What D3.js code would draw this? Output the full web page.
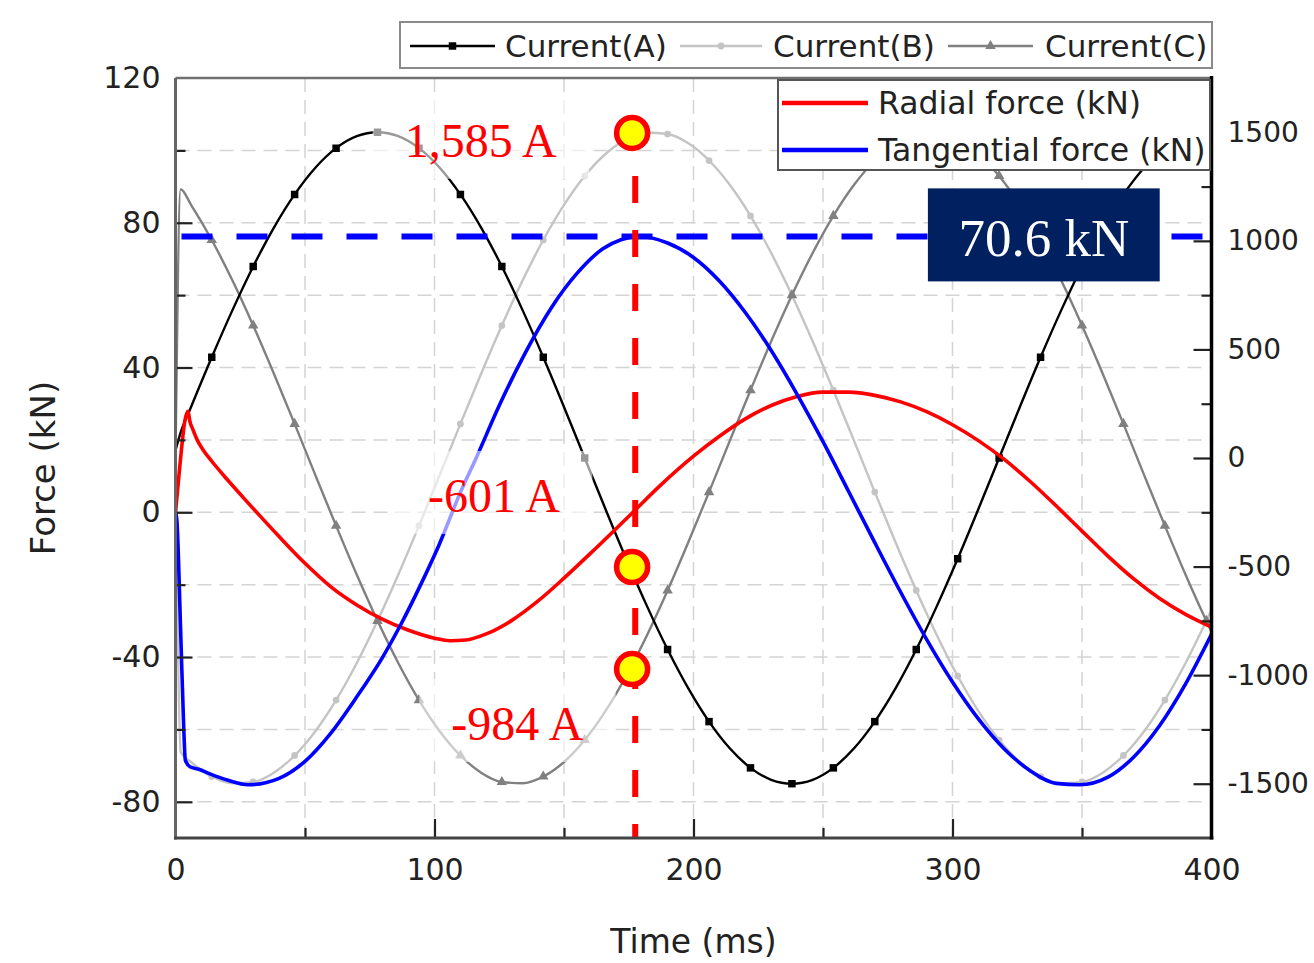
<!DOCTYPE html>
<html><head><meta charset="utf-8">
<script src="https://cdn.jsdelivr.net/npm/d3@7"></script>
<style>body{margin:0;background:#fff;} svg{display:block;}</style>
</head><body>
<svg id="chart" width="1314" height="963"></svg>
<script>
// ---------- DATA ----------
const time = [0,2,6,14,22,30,38,46,54,62,70,78,86,94,102,110,118,126,134,142,150,158,166,174,182,190,198,206,214,222,230,238,246,254,262,270,278,286,294,302,310,318,326,334,342,350,358,366,374,382,390,398,400];
const currentA = [35,118,235,464,681,882,1061,1214,1337,1427,1482,1500,1482,1427,1337,1214,1061,882,681,464,235,0,-235,-464,-681,-882,-1061,-1214,-1337,-1427,-1482,-1500,-1482,-1427,-1337,-1214,-1061,-882,-681,-464,-235,0,235,464,681,882,1061,1214,1337,1427,1482,1500,1499];
const currentB = [0,-1354,-1400,-1467,-1498,-1492,-1449,-1370,-1258,-1115,-944,-750,-538,-312,-79,157,388,610,817,1004,1166,1299,1400,1467,1498,1492,1449,1370,1258,1115,944,750,538,312,79,-157,-388,-610,-817,-1004,-1166,-1299,-1400,-1467,-1498,-1492,-1449,-1370,-1258,-1115,-944,-750,-699];
const currentC = [0,1238,1166,1004,817,610,388,157,-79,-312,-538,-750,-944,-1115,-1258,-1370,-1449,-1492,-1498,-1467,-1400,-1299,-1166,-1004,-817,-610,-388,-157,79,312,538,750,944,1115,1258,1370,1449,1492,1498,1467,1400,1299,1166,1004,817,610,388,157,-79,-312,-538,-750,-800];

const radialTime = [0,1.7,3.7,4.8,5.6,6.7,8.5,10.6,14,19.8,26,32.6,40,50,60,70,80,90,100,106,112,120,130,140,150,160,170,177,187,200,210,220,230,240,250,260,270,280,290,300,310,320,330,340,350,360,370,380,390,400];
const radialForce = [0,13,25.6,27.9,25,22.9,19.8,17.3,14.1,9.2,4.2,-1,-6.7,-14.1,-20.6,-25.6,-29.6,-32.6,-34.8,-35.5,-35.3,-33.6,-29.8,-24.5,-18.2,-11.5,-4.6,0.3,7.3,15.5,21,25.8,29.5,32,33.2,33.2,32.3,30.5,27.8,24.2,19.8,14.6,8.5,1.8,-5.2,-12.1,-18.4,-23.8,-28.2,-31.7];

const tangTime = [0,0.5,2,3.2,3.8,5.6,9,13.3,20,28,40,50,60,70,80,87,95,102,110,116.4,125,135,145,155,165,172,179,190,200,210,220,230,240,250,260,270,280,290,300,310,320,330,340,349,360,370,380,390,400];
const tangForce = [0,-2,-33,-60,-68.5,-70.3,-71,-72.3,-74,-75.3,-73.5,-68.8,-61,-51,-40,-31,-19.5,-8.6,5.5,15.5,29.5,44,56.4,66,72.8,75.3,76.2,74.4,70.4,63.9,55.2,44.7,32.6,19.5,5.6,-8.4,-22.1,-35.1,-46.9,-57.1,-65.4,-71.4,-74.9,-75.3,-73.2,-67.6,-58.9,-47.4,-33.7];

const xTicks = [0,100,200,300,400];
const xMinorTicks = [50,150,250,350];
const leftTicks = [-80,-40,0,40,80,120];
const leftMinorTicks = [-60,-20,20,60,100];
const rightTicks = [-1500,-1000,-500,0,500,1000,1500];
const rightMinorTicks = [-1250,-750,-250,250,750,1250];

const markerStart = 14, markerStep = 16;

// annotations
const peakForce = 76.2;          // kN (blue dashed level)
const markTime = 176.3;          // ms, yellow markers
const lineTime = 177.5;          // ms, red dashed line
const markCurrents = [1497,-502,-972];
const annoLabels = ["1,585 A","-601 A","-984 A"];
const annoTime = [88.5,97.5,106.5];
const annoForce = [98.2,0.1,-62.9];
const boxLabel = "70.6 kN";

const seriesNames = ["Current(A)","Current(B)","Current(C)"];
const forceNames = ["Radial force (kN)","Tangential force (kN)"];

// ---------- SETUP ----------
const svg = d3.select("#chart");
const P = {left:175.5, right:1211.5, top:78, bottom:838};
const x = d3.scaleLinear().domain([0,400]).range([P.left,P.right]);
const yL = d3.scaleLinear().domain([-90,120]).range([P.bottom,P.top]);
const yR = d3.scaleLinear().domain([-1750,1750]).range([P.bottom,P.top]);
const FONT = "'DejaVu Sans', Verdana, sans-serif";
const SERIF = "'Liberation Serif','Times New Roman',serif";
const fmt = d => String(d);

svg.append("rect").attr("width",1314).attr("height",963).attr("fill","#fff");

// grid
const grid = svg.append("g");
grid.selectAll(".gv").data(xMinorTicks.concat([100,200,300])).enter().append("line")
  .attr("x1",d=>x(d)).attr("x2",d=>x(d)).attr("y1",P.top).attr("y2",P.bottom)
  .attr("stroke","#d4d4d4").attr("stroke-width",1.5).attr("stroke-dasharray","14,8");
grid.selectAll(".gh").data(leftTicks.concat(leftMinorTicks).filter(d=>d<120)).enter().append("line")
  .attr("x1",P.left).attr("x2",P.right).attr("y1",d=>yL(d)).attr("y2",d=>yL(d))
  .attr("stroke","#d4d4d4").attr("stroke-width",1.5).attr("stroke-dasharray","14,8");

// clip
svg.append("clipPath").attr("id","clip").append("rect")
  .attr("x",P.left).attr("y",P.top).attr("width",P.right-P.left).attr("height",P.bottom-P.top);
const plotG = svg.append("g").attr("clip-path","url(#clip)");

// currents
const curSeries = [
  {vals:currentB, color:"#c4c4c4", marker:"circle"},
  {vals:currentC, color:"#808080", marker:"triangle"},
  {vals:currentA, color:"#000000", marker:"square"}
];
const lineR = d3.line().x(d=>x(d[0])).y(d=>yR(d[1])).curve(d3.curveMonotoneX);
const symType = {circle:d3.symbolCircle, triangle:d3.symbolTriangle, square:d3.symbolSquare};
const symSize = {circle:36, triangle:48, square:56};
curSeries.forEach(s=>{
  const pts = time.map((t,i)=>[t,s.vals[i]]);
  plotG.append("path").datum(pts).attr("d",lineR).attr("fill","none")
    .attr("stroke",s.color).attr("stroke-width",2.4);
  const mk = pts.filter(p=>p[0]>=markerStart && (p[0]-markerStart)%markerStep===0);
  plotG.selectAll(null).data(mk).enter().append("path")
    .attr("d",d3.symbol().type(symType[s.marker]).size(symSize[s.marker]))
    .attr("transform",d=>`translate(${x(d[0])},${yR(d[1])})`)
    .attr("fill",s.color);
});

// forces
const lineL = d3.line().x(d=>x(d[0])).y(d=>yL(d[1])).curve(d3.curveMonotoneX);
plotG.append("path").datum(radialTime.map((t,i)=>[t,radialForce[i]])).attr("d",lineL)
  .attr("fill","none").attr("stroke","#ff0000").attr("stroke-width",3.6).attr("stroke-linejoin","round");
plotG.append("path").datum(tangTime.map((t,i)=>[t,tangForce[i]])).attr("d",lineL)
  .attr("fill","none").attr("stroke","#0000ff").attr("stroke-width",3.6).attr("stroke-linejoin","round");

// dashed reference lines
plotG.append("line").attr("x1",P.left+6).attr("x2",P.right).attr("y1",yL(peakForce)).attr("y2",yL(peakForce))
  .attr("stroke","#0000ff").attr("stroke-width",6).attr("stroke-dasharray","31,24");
plotG.append("line").attr("x1",x(lineTime)).attr("x2",x(lineTime)).attr("y1",yR(markCurrents[0])-11).attr("y2",P.bottom)
  .attr("stroke","#ff0000").attr("stroke-width",6).attr("stroke-dasharray","27,27");

// yellow markers
svg.selectAll(".ym").data(markCurrents).enter().append("circle")
  .attr("cx",x(markTime)).attr("cy",d=>yR(d)).attr("r",15.5)
  .attr("fill","#ffff00").attr("stroke","#ff0000").attr("stroke-width",5.5);

// annotation texts with translucent background
annoLabels.forEach((lab,i)=>{
  const g = svg.append("g");
  const bg = g.append("rect");
  const t = g.append("text").attr("x",x(annoTime[i])).attr("y",yL(annoForce[i]))
    .attr("font-family",SERIF).attr("font-size",48).attr("fill","#ff0000").text(lab);
  const bb = t.node().getBBox();
  bg.attr("x",bb.x-32).attr("y",bb.y-18).attr("width",bb.width+64).attr("height",bb.height+30)
    .attr("fill","#fff").attr("opacity",0.6);
});

// 70.6 kN box
const boxG = svg.append("g");
boxG.append("rect").attr("x",x(290.5)).attr("y",yL(89.5)).attr("width",x(380)-x(290.5)).attr("height",yL(63.8)-yL(89.5))
  .attr("fill","#002060");
boxG.append("text").attr("x",(x(290.5)+x(380))/2).attr("y",yL(70.8)).attr("text-anchor","middle")
  .attr("font-family",SERIF).attr("font-size",53).attr("fill","#fff").text(boxLabel);

// axes
const axL = svg.append("g").attr("transform",`translate(${P.left},0)`)
  .call(d3.axisLeft(yL).tickValues(leftTicks).tickFormat(fmt).tickSizeInner(-17).tickSizeOuter(0).tickPadding(15));
const axLm = svg.append("g").attr("transform",`translate(${P.left},0)`)
  .call(d3.axisLeft(yL).tickValues(leftMinorTicks).tickSizeInner(-10).tickSizeOuter(0).tickFormat(""));
const axB = svg.append("g").attr("transform",`translate(0,${P.bottom})`)
  .call(d3.axisBottom(x).tickValues(xTicks).tickFormat(fmt).tickSizeInner(-19).tickSizeOuter(0).tickPadding(21));
const axBm = svg.append("g").attr("transform",`translate(0,${P.bottom})`)
  .call(d3.axisBottom(x).tickValues(xMinorTicks).tickSizeInner(-10).tickSizeOuter(0).tickFormat(""));
const axR = svg.append("g").attr("transform",`translate(${P.right},0)`)
  .call(d3.axisRight(yR).tickValues(rightTicks).tickFormat(fmt).tickSizeInner(-18).tickSizeOuter(0).tickPadding(16));
const axRm = svg.append("g").attr("transform",`translate(${P.right},0)`)
  .call(d3.axisRight(yR).tickValues(rightMinorTicks).tickSizeInner(-10).tickSizeOuter(0).tickFormat(""));
[axL,axLm,axB,axBm,axR,axRm].forEach(a=>{
  a.select(".domain").remove();
  a.selectAll(".tick line").attr("stroke","#222").attr("stroke-width",2.2);
  a.selectAll("text").attr("font-family",FONT).attr("font-size",30).attr("fill","#222");
});
axR.selectAll("text").attr("font-size",28);
axL.selectAll(".tick line").filter(d=>d===120).remove();
axB.selectAll(".tick line").filter(d=>d===0||d===400).remove();

// frame
svg.append("line").attr("x1",P.left).attr("x2",P.right).attr("y1",P.top).attr("y2",P.top).attr("stroke","#707070").attr("stroke-width",2.5);
svg.append("line").attr("x1",P.left).attr("x2",P.left).attr("y1",P.top).attr("y2",P.bottom+1.5).attr("stroke","#666").attr("stroke-width",3);
svg.append("line").attr("x1",P.left-1.5).attr("x2",P.right+2).attr("y1",P.bottom).attr("y2",P.bottom).attr("stroke","#444").attr("stroke-width",3);
svg.append("line").attr("x1",P.right).attr("x2",P.right).attr("y1",P.top-2).attr("y2",P.bottom+1.5).attr("stroke","#000").attr("stroke-width",3.5);

// axis titles
svg.append("text").attr("x",x(200)).attr("y",953).attr("text-anchor","middle")
  .attr("font-family",FONT).attr("font-size",33).attr("fill","#222").text("Time (ms)");
svg.append("text").attr("transform",`translate(55,${(P.top+P.bottom)/2+10}) rotate(-90)`).attr("text-anchor","middle")
  .attr("font-family",FONT).attr("font-size",34).attr("fill","#222").text("Force (kN)");

// legend 1 (currents)
const lg1 = svg.append("g");
lg1.append("rect").attr("x",400).attr("y",22).attr("width",812).attr("height",46)
  .attr("fill","#fff").attr("stroke","#8a8a8a").attr("stroke-width",2);
const lg1Items = [
  {name:seriesNames[0], color:"#000", marker:"square", x0:410, x1:495, tx:505},
  {name:seriesNames[1], color:"#c4c4c4", marker:"circle", x0:680, x1:762, tx:773},
  {name:seriesNames[2], color:"#808080", marker:"triangle", x0:948, x1:1033, tx:1045}
];
lg1Items.forEach(it=>{
  lg1.append("line").attr("x1",it.x0).attr("x2",it.x1).attr("y1",46).attr("y2",46).attr("stroke",it.color).attr("stroke-width",2.6);
  lg1.append("path").attr("d",d3.symbol().type(symType[it.marker]).size(symSize[it.marker])())
    .attr("transform",`translate(${(it.x0+it.x1)/2},46)`).attr("fill",it.color);
  lg1.append("text").attr("x",it.tx).attr("y",57).attr("font-family",FONT).attr("font-size",31)
    .attr("fill","#222").text(it.name);
});

// legend 2 (forces)
const lg2 = svg.append("g");
lg2.append("rect").attr("x",778).attr("y",80).attr("width",432).attr("height",90)
  .attr("fill","#fff").attr("stroke","#555").attr("stroke-width",2);
[{name:forceNames[0],color:"#ff0000",y:103},{name:forceNames[1],color:"#0000ff",y:150}].forEach(it=>{
  lg2.append("line").attr("x1",782).attr("x2",868).attr("y1",it.y).attr("y2",it.y).attr("stroke",it.color).attr("stroke-width",4.5);
  lg2.append("text").attr("x",878).attr("y",it.y+11).attr("font-family",FONT).attr("font-size",31.5)
    .attr("fill","#222").text(it.name);
});
</script>
</body></html>
